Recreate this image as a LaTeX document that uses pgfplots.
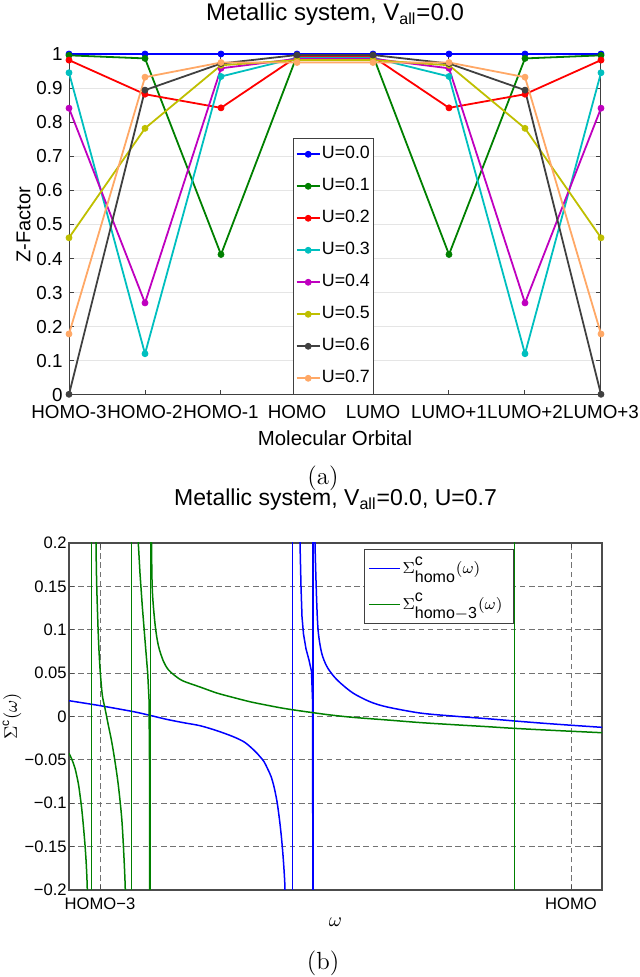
\documentclass[border=0pt]{standalone}
\usepackage{fontspec}
\usepackage{amsmath}
\usepackage{pgfplots}
\pgfplotsset{compat=1.18}
\newfontfamily\hv{Liberation Sans}
\definecolor{c0}{rgb}{0,0,1}
\definecolor{c1}{rgb}{0,0.5,0}
\definecolor{c2}{rgb}{1,0,0}
\definecolor{c3}{rgb}{0,0.75,0.75}
\definecolor{c4}{rgb}{0.75,0,0.75}
\definecolor{c5}{rgb}{0.75,0.75,0}
\definecolor{c6}{rgb}{0.25,0.25,0.25}
\definecolor{c7}{rgb}{1,0.66,0.4}
\newcommand{\sig}[1]{$\Sigma^{\raisebox{1.2pt}{\text{c}}}_{\raisebox{-0.8pt}{\text{#1}}}(\omega)$}
\begin{document}
\begin{tikzpicture}
\path[use as bounding box] (0,0) rectangle (319.5pt,488.5pt);
% ---------------- (a) ----------------
\begin{axis}[
  at={(34.5pt,291pt)}, anchor=south west,
  scale only axis, width=266pt, height=170.5pt,
  xmin=0, xmax=7, ymin=0, ymax=1,
  xtick={0,1,2,3,4,5,6,7},
  xticklabels={HOMO-3,HOMO-2,HOMO-1,HOMO,LUMO,LUMO+1,LUMO+2,LUMO+3},
  ytick={0,0.1,0.2,0.3,0.4,0.5,0.6,0.7,0.8,0.9,1},
  yticklabels={0,0.1,0.2,0.3,0.4,0.5,0.6,0.7,0.8,0.9,1},
  /pgf/number format/assume math mode=true,
  tick align=inside, major tick length=2.6pt,
  axis line style={black!75, line width=0.5pt},
  every tick/.style={black!75, line width=0.5pt},
  ymajorgrids, grid style={black!10, line width=0.5pt},
  tick label style={font=\hv\fontsize{9.4}{10}\selectfont, text=black, inner sep=0pt},
  xticklabel style={anchor=base, yshift=-12pt},
  yticklabel style={anchor=east, xshift=-3pt},
  title={Metallic system, V\textsubscript{all}=0.0},
  title style={font=\hv\fontsize{12}{14}\selectfont, at={(axis description cs:0.5,1)}, anchor=base, yshift=10.5pt, inner sep=0pt},
  xlabel={Molecular Orbital},
  xlabel style={font=\hv\fontsize{10.2}{12}\selectfont, at={(axis description cs:0.5,0)}, anchor=base, yshift=-25.5pt, inner sep=0pt},
  ylabel={Z-Factor},
  ylabel style={font=\hv\fontsize{10}{12}\selectfont, at={(axis description cs:-0.0855,0.5)}, anchor=center, inner sep=0pt},
  legend cell align=left,
  legend style={at={(axis description cs:0.497,0)}, anchor=south, draw=black!75, line width=0.5pt, fill=white,
    font=\hv\fontsize{8.9}{10}\selectfont, row sep=6.3pt, inner xsep=1.2pt, inner ysep=3.25pt,
    nodes={inner sep=0.6pt, text height=6.5pt, text depth=2pt}},
  legend image code/.code={\draw[mark repeat=2,mark phase=2] plot coordinates {(0pt,0pt) (5.8pt,0pt) (11.6pt,0pt)};},
  every axis plot/.append style={line width=0.9pt, mark=*, mark size=1.5pt, mark options={solid, line width=0.4pt}},
]
\addplot[c0] coordinates {(0,1) (1,1) (2,1) (3,1) (4,1) (5,1) (6,1) (7,1)};
\addplot[c1] coordinates {(0,0.996) (1,0.987) (2,0.412) (3,0.995) (4,0.995) (5,0.412) (6,0.987) (7,0.996)};
\addplot[c2] coordinates {(0,0.982) (1,0.882) (2,0.842) (3,0.992) (4,0.992) (5,0.842) (6,0.882) (7,0.982)};
\addplot[c3] coordinates {(0,0.945) (1,0.121) (2,0.934) (3,0.989) (4,0.989) (5,0.934) (6,0.121) (7,0.945)};
\addplot[c4] coordinates {(0,0.841) (1,0.270) (2,0.958) (3,0.986) (4,0.986) (5,0.958) (6,0.270) (7,0.841)};
\addplot[c5] coordinates {(0,0.461) (1,0.782) (2,0.967) (3,0.982) (4,0.982) (5,0.967) (6,0.782) (7,0.461)};
\addplot[c6] coordinates {(0,0.002) (1,0.894) (2,0.972) (3,0.997) (4,0.997) (5,0.972) (6,0.894) (7,0.002)};
\addplot[c7] coordinates {(0,0.179) (1,0.932) (2,0.975) (3,0.975) (4,0.975) (5,0.975) (6,0.932) (7,0.179)};
\legend{U=0.0,U=0.1,U=0.2,U=0.3,U=0.4,U=0.5,U=0.6,U=0.7}
\end{axis}
\node[font=\fontsize{12.4}{14}\selectfont] at (161.5pt,249.5pt) {(a)};
% ---------------- (b) ----------------
\begin{axis}[
  at={(34.5pt,43.5pt)}, anchor=south west,
  scale only axis, width=266.5pt, height=173.5pt,
  xmin=69, xmax=602, ymin=-0.2, ymax=0.2,
  xtick={100,571}, xticklabels={HOMO−3,HOMO},
  ytick={-0.2,-0.15,-0.1,-0.05,0,0.05,0.1,0.15,0.2},
  yticklabels={−0.2,−0.15,−0.1,−0.05,0,0.05,0.1,0.15,0.2},
  /pgf/number format/assume math mode=true,
  tick align=inside, major tick length=2.6pt,
  axis line style={black!70, line width=0.6pt},
  every tick/.style={black!70, line width=0.5pt},
  xmajorgrids, ymajorgrids,
  grid style={dash pattern=on 2.8pt off 1.8pt, black!55, line width=0.5pt},
  tick label style={font=\hv\fontsize{8.3}{10}\selectfont, text=black, inner sep=0pt},
  xticklabel style={anchor=base, yshift=-10pt},
  yticklabel style={anchor=east, xshift=-1pt},
  title={Metallic system, V\textsubscript{all}=0.0, U=0.7},
  title style={font=\hv\fontsize{11.5}{14}\selectfont, at={(axis description cs:0.5,1)}, anchor=base, yshift=12.5pt, inner sep=0pt},
  xlabel={$\omega$},
  xlabel style={font=\fontsize{10}{12}\selectfont, at={(axis description cs:0.5,0)}, anchor=center, yshift=-16pt, inner sep=0pt},
  ylabel={$\Sigma^{\text{c}}(\omega)$},
  ylabel style={font=\hv\fontsize{9}{11}\selectfont, at={(axis description cs:-0.107,0.5)}, anchor=center, inner sep=0pt},
  legend cell align=left,
  legend style={at={(axis description cs:0.5535,0.9827)}, anchor=north west, draw=black!75, line width=0.5pt, fill=white,
    font=\hv\fontsize{8}{10}\selectfont, row sep=5.4pt, inner xsep=2pt, inner ysep=3.2pt,
    nodes={inner sep=0.8pt, text height=8pt, text depth=3pt}},
  legend image code/.code={\draw (0pt,0pt) -- (15.5pt,0pt);},
  every axis plot/.append style={line width=0.75pt},
]
% homo (blue)
\addplot[c0, smooth, tension=0.5] coordinates {(69,0.0182) (100,0.0125) (133.3,0.0056) (150,0.0013) (166.7,-0.0033) (183.3,-0.0071) (200,-0.0106) (216.7,-0.0163) (233.3,-0.0233) (245,-0.030) (255,-0.040) (260,-0.0463) (264,-0.052) (267.5,-0.060) (271,-0.069) (274,-0.081) (277,-0.098) (279.5,-0.119) (281.5,-0.140) (283,-0.160) (284.2,-0.180) (285,-0.2) (285.6,-0.25)};
\addplot[c0, forget plot] coordinates {(292.7,-0.25) (292.7,0.25)};
\addplot[c0, forget plot] coordinates {(299.7,0.25) (300,0.2) (301,0.15) (302,0.115) (303.5,0.095) (306,0.078) (309,0.065) (311.5,0.052) (312.5,0.02) (313,-0.25)};
\addplot[c0, forget plot] coordinates {(313,-0.25) (313,0.25)};
\addplot[c0, forget plot, smooth, tension=0.5] coordinates {(314.7,0.25) (315,0.2) (316.7,0.132) (318.3,0.097) (321.7,0.073) (326.7,0.058) (333.3,0.047) (340,0.039) (353,0.027) (370,0.017) (387,0.011) (420,0.004) (453,0.0005) (487,-0.0025) (513,-0.005) (540,-0.0075) (570,-0.01) (602,-0.0125)};
% homo-3 (green)
\addplot[c1, smooth, tension=0.5] coordinates {(69,-0.0424) (71.7,-0.049) (75,-0.0597) (78.3,-0.077) (80,-0.0905) (81.7,-0.106) (83.3,-0.125) (85,-0.148) (86.3,-0.171) (87.3,-0.2) (87.8,-0.25)};
\addplot[c1, forget plot] coordinates {(91.7,-0.25) (91.7,0.25)};
\addplot[c1, forget plot, smooth, tension=0.5] coordinates {(95.7,0.25) (96,0.2) (96.7,0.152) (98.3,0.094) (100,0.0556) (102.3,0.0248) (105,0.0094) (108.3,-0.0098) (111.7,-0.029) (115,-0.052) (118.3,-0.079) (121.7,-0.117) (123.7,-0.156) (125.3,-0.2) (125.8,-0.25)};
\addplot[c1, forget plot] coordinates {(131.7,-0.25) (131.7,0.25)};
\addplot[c1, forget plot] coordinates {(137.9,0.25) (138.3,0.2) (140,0.165) (142.3,0.127) (145,0.088) (147.7,0.05) (149,0.02) (149.5,-0.05) (149.7,-0.25)};
\addplot[c1, forget plot] coordinates {(150.7,-0.25) (150.7,0.25)};
\addplot[c1, forget plot, smooth, tension=0.5] coordinates {(151.1,0.25) (151.5,0.2) (152.3,0.146) (155,0.107) (158.3,0.082) (163.3,0.064) (168.3,0.054) (175,0.047) (183,0.041) (200,0.034) (217,0.027) (233,0.022) (250,0.017) (267,0.013) (283,0.0095) (300,0.0065) (313,0.0044) (330,0.0018) (353,-0.001) (387,-0.004) (420,-0.007) (453,-0.0094) (487,-0.0117) (513,-0.0136) (553,-0.016) (602,-0.0187)};
\addplot[c1, forget plot] coordinates {(514.3,-0.25) (514.3,0.25)};
\legend{\sig{homo}\hspace*{8.5pt}, \sig{homo$-$3}\hspace*{2.5pt}}
\end{axis}
\node[font=\fontsize{12.4}{14}\selectfont] at (161.5pt,7pt) {(b)};
\end{tikzpicture}
\end{document}
